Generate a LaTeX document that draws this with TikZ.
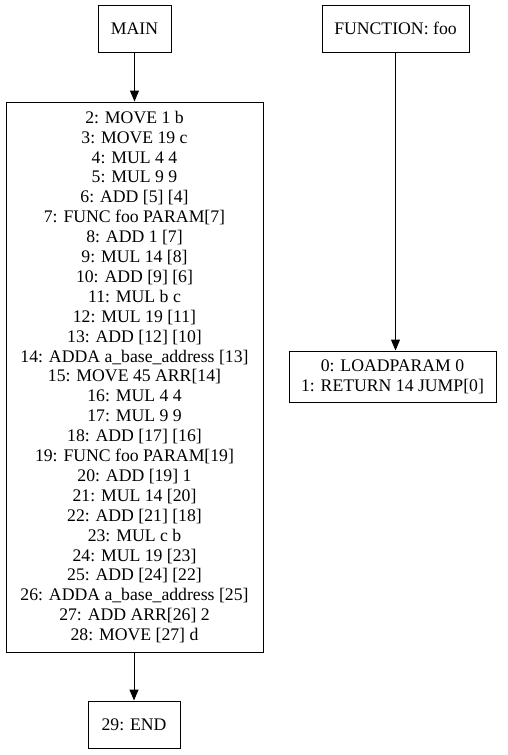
\documentclass[tikz,border=0pt]{standalone}
\usepackage{fontspec}
\setmainfont{Liberation Serif}
\usetikzlibrary{arrows.meta}
\begin{document}
\begin{tikzpicture}[x=1pt,y=-1pt,
  box/.style={draw=black,line width=1pt,inner sep=0pt,align=center,
    font=\fontsize{17.7}{19.9}\selectfont},
  arr/.style={line width=1pt,-{Triangle[length=11pt,width=9pt]}}]
\useasboundingbox (0,0) rectangle (508,755);
\node[box,minimum width=73pt,minimum height=47pt] (main) at (134.5,28.5) {MAIN};
\node[box,minimum width=147pt,minimum height=47pt] (func) at (395.5,28.5) {FUNCTION: foo};
\node[box,minimum width=257pt,minimum height=550pt] (body) at (134.5,377) {2: MOVE 1 b\\3: MOVE 19 c\\4: MUL 4 4\\5: MUL 9 9\\6: ADD [5] [4]\\7: FUNC foo PARAM[7]\\8: ADD 1 [7]\\9: MUL 14 [8]\\10: ADD [9] [6]\\11: MUL b c\\12: MUL 19 [11]\\13: ADD [12] [10]\\14: ADDA a\_base\_address [13]\\15: MOVE 45 ARR[14]\\16: MUL 4 4\\17: MUL 9 9\\18: ADD [17] [16]\\19: FUNC foo PARAM[19]\\20: ADD [19] 1\\21: MUL 14 [20]\\22: ADD [21] [18]\\23: MUL c b\\24: MUL 19 [23]\\25: ADD [24] [22]\\26: ADDA a\_base\_address [25]\\27: ADD ARR[26] 2\\28: MOVE [27] d};
\node[box,minimum width=92pt,minimum height=47pt] (end) at (134,724.5) {29: END};
\node[box,minimum width=207pt,minimum height=51pt] (load) at (392.5,376.5) {0: LOADPARAM 0\\1: RETURN 14 JUMP[0]};
\draw[arr] (main) -- (body.north -| main);
\draw[arr] (func.south) -- (func.south |- load.north);
\draw[arr] (body.south -| end) -- (end.north);
\end{tikzpicture}
\end{document}
